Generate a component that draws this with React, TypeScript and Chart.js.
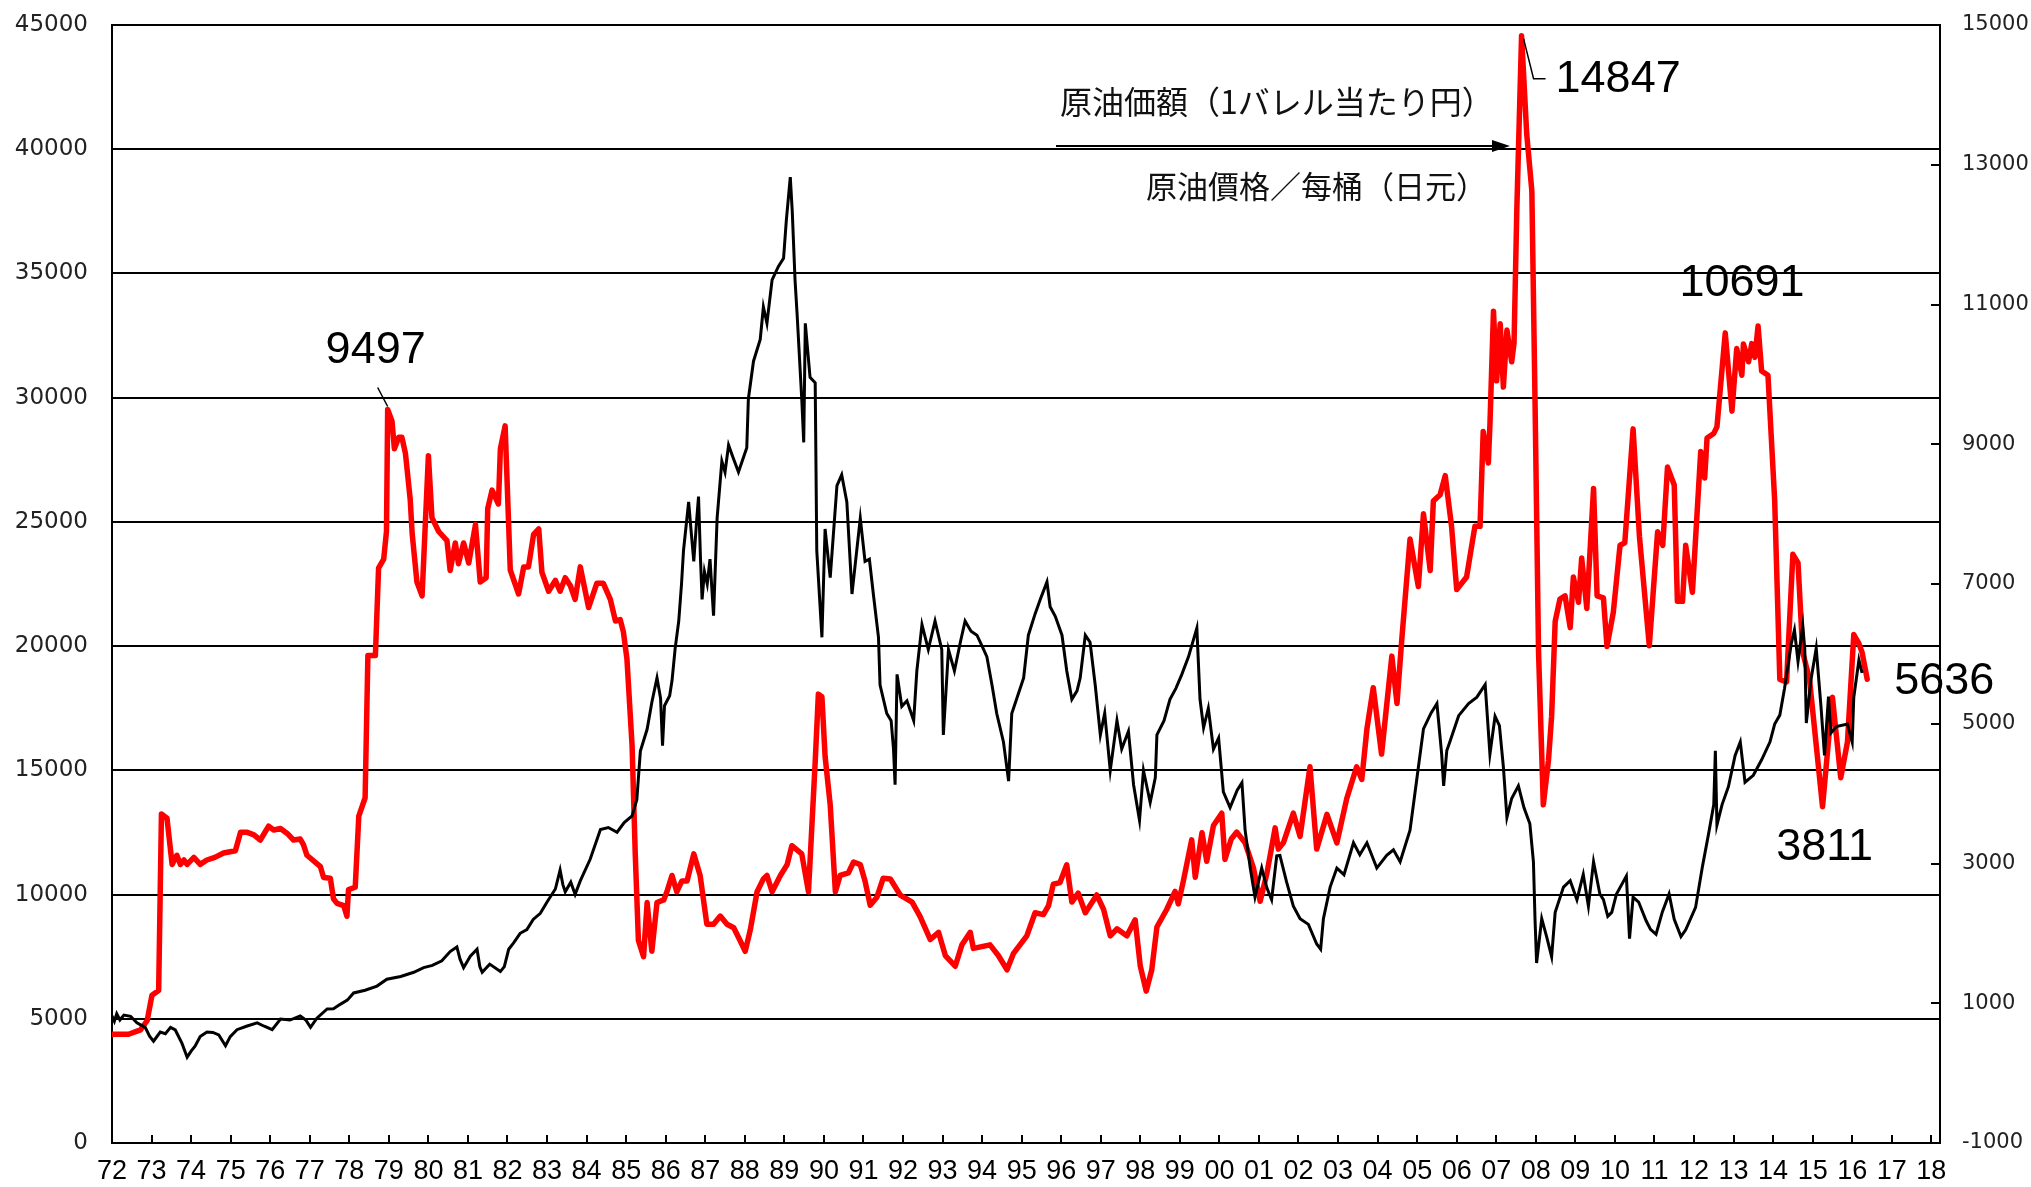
import React, { useEffect, useRef } from 'react';
import { Chart, registerables } from 'chart.js';

Chart.register(...registerables);

// Tick labels of the time axis; the first label sits at the first tick (1973.0)
const YEAR_LABELS = [
  '72', '73', '74', '75', '76', '77', '78', '79', '80', '81', '82', '83', '84', '85', '86', '87',
  '88', '89', '90', '91', '92', '93', '94', '95', '96', '97', '98', '99', '00', '01', '02', '03',
  '04', '05', '06', '07', '08', '09', '10', '11', '12', '13', '14', '15', '16', '17', '18',
];
const FIRST_TICK = 1973;
const X_MAX = 2019.22;

// Nikkei average (left axis) [time, value]
const NIKKEI = [
  [1973.0, 5116], [1973.06, 4900], [1973.12, 5200], [1973.2, 4950], [1973.3, 5150], [1973.47, 5100],
  [1973.63, 4838], [1973.84, 4653], [1973.95, 4300], [1974.05, 4097], [1974.22, 4468], [1974.35, 4400],
  [1974.48, 4653], [1974.6, 4550], [1974.77, 4010], [1974.9, 3454], [1975.0, 3700], [1975.1, 3900],
  [1975.23, 4283], [1975.4, 4468], [1975.55, 4450], [1975.7, 4350], [1975.87, 3917], [1975.99, 4283],
  [1976.16, 4561], [1976.4, 4700], [1976.67, 4838], [1976.85, 4700], [1977.05, 4561], [1977.26, 4988],
  [1977.5, 4950], [1977.76, 5116], [1977.9, 4950], [1978.02, 4653], [1978.18, 5023], [1978.44, 5395],
  [1978.6, 5400], [1978.77, 5580], [1978.95, 5750], [1979.11, 6039], [1979.4, 6150], [1979.7, 6316],
  [1979.95, 6594], [1980.3, 6700], [1980.63, 6872], [1980.88, 7057], [1981.1, 7150], [1981.34, 7334],
  [1981.55, 7705], [1981.72, 7890], [1981.8, 7400], [1981.89, 7057], [1982.06, 7520], [1982.23, 7797],
  [1982.3, 7100], [1982.36, 6872], [1982.55, 7200], [1982.82, 6900], [1982.92, 7100], [1983.03, 7797],
  [1983.15, 8043], [1983.32, 8441], [1983.49, 8590], [1983.65, 9000], [1983.83, 9242], [1984.0, 9700],
  [1984.21, 10224], [1984.33, 10985], [1984.4, 10400], [1984.46, 10111], [1984.6, 10500], [1984.71, 10006],
  [1984.84, 10550], [1985.09, 11419], [1985.35, 12619], [1985.55, 12700], [1985.77, 12510], [1985.95, 12900],
  [1986.15, 13162], [1986.27, 13818], [1986.36, 15778], [1986.53, 16651], [1986.65, 17742], [1986.78, 18721],
  [1986.87, 17900], [1986.92, 15996], [1986.97, 17600], [1987.1, 18000], [1987.16, 18612], [1987.24, 19920],
  [1987.33, 21011], [1987.4, 22500], [1987.45, 23844], [1987.58, 25804], [1987.65, 24500], [1987.71, 23406],
  [1987.78, 25000], [1987.83, 26022], [1987.88, 23500], [1987.92, 21880], [1987.98, 23000], [1988.05, 22500],
  [1988.12, 23500], [1988.21, 21228], [1988.3, 25150], [1988.42, 27440], [1988.5, 27000], [1988.59, 28092],
  [1988.7, 27600], [1988.84, 27005], [1989.05, 27983], [1989.09, 29947], [1989.22, 31468], [1989.39, 32342],
  [1989.47, 33650], [1989.56, 32994], [1989.69, 34741], [1989.85, 35284], [1989.98, 35610], [1990.05, 37136],
  [1990.15, 38879], [1990.2, 37500], [1990.27, 34741], [1990.32, 33433], [1990.44, 29947], [1990.49, 28200],
  [1990.53, 32994], [1990.65, 30816], [1990.78, 30598], [1990.82, 23844], [1990.95, 20355], [1991.03, 24714],
  [1991.16, 22754], [1991.33, 26457], [1991.45, 26896], [1991.58, 25804], [1991.71, 22098], [1991.92, 25150],
  [1992.04, 23406], [1992.15, 23500], [1992.25, 22098], [1992.38, 20355], [1992.42, 18435], [1992.59, 17288],
  [1992.7, 17000], [1992.76, 15855], [1992.8, 14422], [1992.85, 18862], [1992.97, 17574], [1993.1, 17800],
  [1993.27, 17003], [1993.35, 19006], [1993.48, 20865], [1993.64, 19863], [1993.81, 21011], [1993.98, 19863],
  [1994.02, 16427], [1994.15, 19863], [1994.3, 19000], [1994.45, 20154], [1994.57, 21011], [1994.72, 20600],
  [1994.87, 20440], [1995.0, 20000], [1995.12, 19578], [1995.25, 18435], [1995.37, 17288], [1995.54, 16141],
  [1995.67, 14567], [1995.75, 17288], [1995.9, 18000], [1996.05, 18721], [1996.17, 20440], [1996.34, 21297],
  [1996.47, 21872], [1996.64, 22585], [1996.72, 21583], [1996.85, 21200], [1997.02, 20440], [1997.14, 19006],
  [1997.27, 17860], [1997.4, 18200], [1997.48, 18721], [1997.61, 20440], [1997.73, 20154], [1997.86, 18435],
  [1997.99, 16427], [1998.1, 17300], [1998.24, 14994], [1998.41, 17003], [1998.53, 15855], [1998.7, 16571],
  [1998.83, 14422], [1998.98, 12989], [1999.08, 14994], [1999.25, 13706], [1999.38, 14708], [1999.42, 16427],
  [1999.6, 17000], [1999.75, 17860], [1999.9, 18300], [2000.05, 18862], [2000.22, 19578], [2000.43, 20725],
  [2000.51, 17860], [2000.6, 16712], [2000.72, 17500], [2000.85, 15855], [2000.98, 16300], [2001.1, 14136],
  [2001.27, 13500], [2001.45, 14200], [2001.57, 14500], [2001.65, 12594], [2001.78, 11065], [2001.9, 9900],
  [2002.07, 11065], [2002.2, 10268], [2002.32, 9793], [2002.45, 11556], [2002.53, 11576], [2002.7, 10500],
  [2002.87, 9535], [2003.04, 9028], [2003.25, 8800], [2003.46, 8010], [2003.56, 7800], [2003.63, 9028],
  [2003.8, 10300], [2003.97, 11065], [2004.15, 10800], [2004.39, 12083], [2004.55, 11600], [2004.73, 12083],
  [2004.98, 11065], [2005.23, 11576], [2005.4, 11800], [2005.57, 11318], [2005.82, 12594], [2005.99, 14631],
  [2006.16, 16668], [2006.35, 17300], [2006.5, 17690], [2006.62, 15650], [2006.67, 14377], [2006.75, 15800],
  [2006.83, 16161], [2007.05, 17200], [2007.3, 17690], [2007.51, 17944], [2007.72, 18451], [2007.84, 15650],
  [2007.97, 17178], [2008.08, 16800], [2008.18, 15142], [2008.27, 13103], [2008.39, 13866], [2008.56, 14377],
  [2008.7, 13500], [2008.85, 12848], [2008.94, 11318], [2008.98, 9028], [2009.02, 7245], [2009.15, 9028],
  [2009.28, 8264], [2009.4, 7500], [2009.49, 9283], [2009.7, 10302], [2009.87, 10556], [2010.04, 9793],
  [2010.2, 10812], [2010.33, 9535], [2010.46, 11318], [2010.62, 10023], [2010.71, 9793], [2010.82, 9122],
  [2010.92, 9283], [2011.04, 10023], [2011.29, 10744], [2011.37, 8224], [2011.46, 9900], [2011.6, 9700],
  [2011.79, 8944], [2011.9, 8600], [2012.04, 8402], [2012.2, 9300], [2012.37, 10023], [2012.5, 9000],
  [2012.67, 8306], [2012.79, 8583], [2013.04, 9484], [2013.21, 11102], [2013.38, 12543], [2013.5, 13621],
  [2013.54, 15783], [2013.58, 12800], [2013.71, 13621], [2013.87, 14341], [2014.04, 15601], [2014.17, 16144],
  [2014.29, 14522], [2014.5, 14800], [2014.71, 15424], [2014.92, 16140], [2015.04, 16865], [2015.17, 17223],
  [2015.29, 18302], [2015.46, 20101], [2015.54, 20645], [2015.63, 19385], [2015.75, 20822], [2015.8, 19900],
  [2015.84, 16906], [2015.96, 18665], [2016.09, 19912], [2016.21, 17582], [2016.3, 15601], [2016.4, 17966],
  [2016.46, 16503], [2016.6, 16758], [2016.88, 16865], [2017.0, 16140], [2017.04, 17944], [2017.17, 19441],
  [2017.25, 18917],
];

// Crude oil price, yen per barrel (right axis) [time, value]
const OIL = [
  [1973.0, 556], [1973.42, 556], [1973.72, 620], [1973.89, 753], [1974.01, 1116], [1974.18, 1182],
  [1974.25, 3710], [1974.39, 3650], [1974.52, 2987], [1974.64, 3118], [1974.73, 2987], [1974.82, 3050],
  [1974.9, 2987], [1975.07, 3087], [1975.23, 2987], [1975.4, 3050], [1975.6, 3087], [1975.82, 3150],
  [1976.12, 3183], [1976.25, 3446], [1976.42, 3446], [1976.59, 3410], [1976.75, 3336], [1976.96, 3534],
  [1977.09, 3480], [1977.26, 3500], [1977.43, 3430], [1977.59, 3336], [1977.76, 3350], [1977.84, 3270],
  [1977.93, 3118], [1978.27, 2954], [1978.35, 2800], [1978.52, 2790], [1978.6, 2495], [1978.69, 2429],
  [1978.86, 2396], [1978.94, 2245], [1978.98, 2627], [1979.15, 2660], [1979.24, 3677], [1979.4, 3941],
  [1979.47, 5977], [1979.66, 5977], [1979.74, 7226], [1979.87, 7357], [1979.94, 7751], [1979.97, 9497],
  [1980.08, 9329], [1980.14, 8934], [1980.25, 9099], [1980.33, 9099], [1980.42, 8868], [1980.54, 8211],
  [1980.59, 7718], [1980.71, 7029], [1980.84, 6831], [1981.0, 8836], [1981.09, 7949], [1981.26, 7751],
  [1981.47, 7620], [1981.55, 7193], [1981.68, 7587], [1981.76, 7291], [1981.89, 7587], [1982.02, 7300],
  [1982.19, 7850], [1982.31, 7029], [1982.46, 7090], [1982.5, 8080], [1982.61, 8343], [1982.77, 8145],
  [1982.82, 8934], [1982.94, 9263], [1983.07, 7200], [1983.28, 6857], [1983.41, 7245], [1983.53, 7245],
  [1983.66, 7710], [1983.79, 7787], [1983.87, 7168], [1984.04, 6896], [1984.21, 7051], [1984.33, 6896],
  [1984.46, 7090], [1984.59, 6975], [1984.71, 6780], [1984.84, 7245], [1985.05, 6663], [1985.26, 7012],
  [1985.42, 7012], [1985.6, 6780], [1985.73, 6470], [1985.85, 6490], [1985.93, 6315], [1986.02, 5927],
  [1986.15, 4688], [1986.23, 3138], [1986.31, 1898], [1986.44, 1666], [1986.53, 2441], [1986.65, 1744],
  [1986.78, 2441], [1986.95, 2479], [1987.03, 2595], [1987.16, 2829], [1987.28, 2595], [1987.41, 2751],
  [1987.54, 2750], [1987.71, 3138], [1987.87, 2829], [1988.04, 2131], [1988.21, 2131], [1988.38, 2248],
  [1988.55, 2131], [1988.72, 2080], [1988.88, 1898], [1989.01, 1744], [1989.14, 2053], [1989.31, 2595],
  [1989.47, 2780], [1989.56, 2829], [1989.69, 2595], [1989.9, 2829], [1990.07, 2984], [1990.19, 3255],
  [1990.44, 3138], [1990.61, 2595], [1990.78, 4456], [1990.86, 5424], [1990.95, 5386], [1991.03, 4533],
  [1991.16, 3836], [1991.29, 2595], [1991.41, 2829], [1991.62, 2867], [1991.75, 3022], [1991.92, 2984],
  [1992.04, 2750], [1992.17, 2402], [1992.34, 2518], [1992.5, 2790], [1992.68, 2778], [1992.93, 2549],
  [1993.23, 2448], [1993.43, 2243], [1993.69, 1912], [1993.9, 2014], [1994.07, 1683], [1994.32, 1530],
  [1994.49, 1836], [1994.7, 2014], [1994.78, 1785], [1995.2, 1836], [1995.41, 1683], [1995.63, 1479],
  [1995.79, 1709], [1996.13, 1964], [1996.34, 2295], [1996.55, 2269], [1996.68, 2397], [1996.8, 2703],
  [1996.97, 2727], [1997.14, 2982], [1997.27, 2448], [1997.43, 2575], [1997.61, 2295], [1997.9, 2549],
  [1998.07, 2346], [1998.24, 1964], [1998.41, 2066], [1998.66, 1964], [1998.87, 2193], [1999.0, 1530],
  [1999.15, 1174], [1999.29, 1479], [1999.42, 2091], [1999.67, 2345], [1999.88, 2600], [1999.96, 2422],
  [2000.09, 2753], [2000.3, 3338], [2000.39, 2804], [2000.56, 3441], [2000.68, 3033], [2000.85, 3543],
  [2001.06, 3720], [2001.14, 3059], [2001.3, 3350], [2001.44, 3450], [2001.65, 3296], [2001.86, 2939],
  [2002.03, 2460], [2002.2, 2855], [2002.41, 3510], [2002.49, 3206], [2002.62, 3300], [2002.87, 3720],
  [2003.04, 3387], [2003.29, 4384], [2003.46, 3206], [2003.72, 3704], [2003.97, 3296], [2004.22, 3930],
  [2004.47, 4384], [2004.6, 4203], [2004.73, 4927], [2004.89, 5516], [2005.1, 4565], [2005.36, 5968],
  [2005.49, 5290], [2005.61, 6195], [2005.82, 7644], [2006.03, 6964], [2006.16, 8006], [2006.33, 7192],
  [2006.41, 8188], [2006.58, 8278], [2006.71, 8551], [2006.87, 7825], [2007.0, 6920], [2007.25, 7100],
  [2007.46, 7825], [2007.59, 7825], [2007.67, 9183], [2007.8, 8732], [2007.84, 9274], [2007.93, 10905],
  [2008.01, 9908], [2008.1, 10724], [2008.18, 9818], [2008.27, 10634], [2008.39, 10180], [2008.45, 10452],
  [2008.52, 12354], [2008.64, 14847], [2008.77, 13442], [2008.9, 12626], [2008.98, 9638], [2009.07, 6014],
  [2009.19, 3840], [2009.32, 4474], [2009.4, 5108], [2009.49, 6466], [2009.61, 6784], [2009.74, 6829],
  [2009.87, 6376], [2009.95, 7100], [2010.08, 6738], [2010.16, 7372], [2010.29, 6648], [2010.46, 8368],
  [2010.55, 6829], [2010.71, 6800], [2010.8, 6104], [2010.96, 6596], [2011.13, 7554], [2011.25, 7588],
  [2011.46, 9220], [2011.62, 7684], [2011.87, 6116], [2012.08, 7748], [2012.21, 7553], [2012.33, 8673],
  [2012.5, 8417], [2012.58, 6753], [2012.71, 6753], [2012.79, 7553], [2012.96, 6882], [2013.17, 8896],
  [2013.27, 8516], [2013.33, 9090], [2013.5, 9155], [2013.58, 9248], [2013.79, 10594], [2013.96, 9474],
  [2014.08, 10369], [2014.21, 9988], [2014.25, 10436], [2014.38, 10180], [2014.46, 10440], [2014.54, 10244],
  [2014.62, 10691], [2014.71, 10049], [2014.87, 9988], [2015.04, 8195], [2015.17, 5636], [2015.34, 5600],
  [2015.5, 7425], [2015.63, 7301], [2015.75, 6021], [2015.92, 5636], [2016.25, 3811], [2016.5, 5380],
  [2016.71, 4228], [2016.88, 4739], [2017.04, 6276], [2017.17, 6147], [2017.25, 6021], [2017.38, 5636],
];

// Values called out on the oil line: [label, time, value]
const OIL_CALLOUTS = [
  ['9497', 1979.97, 9497],
  ['14847', 2008.64, 14847],
  ['10691', 2014.62, 10691],
  ['3811', 2016.25, 3811],
  ['5636', 2017.38, 5636],
];

const LABEL_JP = '原油価額（1バレル当たり円）';
const LABEL_ZH = '原油價格／每桶（日元）';

// pixel offsets / styling for the callouts (by label)
const CALLOUT_STYLE: Record<string, any> = {
  '9497': { dx: -12, dy: -59, align: 'center', leader: [[-10, -22], [0, -3]] },
  '14847': { dx: 34, dy: 44, align: 'left', leader: [[2, 3], [12, 43], [24, 43]] },
  '10691': { dx: -16, dy: -42, align: 'center' },
  '3811': { dx: 2, dy: 41, align: 'center' },
  '5636': { dx: 27, dy: 2, align: 'left' },
};

const innerTicks = {
  id: 'innerTicks',
  afterDraw(chart: any) {
    const { ctx, chartArea } = chart;
    const xs = chart.scales.x;
    const y2 = chart.scales.y2;
    ctx.save();
    ctx.strokeStyle = '#000';
    ctx.lineWidth = 2;
    ctx.beginPath();
    xs.ticks.forEach((t: any) => {
      const px = Math.round(xs.getPixelForValue(t.value));
      ctx.moveTo(px, chartArea.bottom);
      ctx.lineTo(px, chartArea.bottom - 8);
    });
    y2.ticks.forEach((t: any) => {
      const py = Math.round(y2.getPixelForValue(t.value));
      ctx.moveTo(chartArea.right - 9, py);
      ctx.lineTo(chartArea.right, py);
    });
    ctx.stroke();
    ctx.restore();
  },
};

const callouts = {
  id: 'callouts',
  afterDraw(chart: any) {
    const { ctx } = chart;
    const xs = chart.scales.x;
    const ys = chart.scales.y2;
    ctx.save();
    ctx.fillStyle = '#000';
    ctx.strokeStyle = '#000';
    ctx.textBaseline = 'middle';
    ctx.font = "45px 'Liberation Sans', Arial, sans-serif";
    OIL_CALLOUTS.forEach(([label, t, v]) => {
      const st = CALLOUT_STYLE[label as string];
      const px = xs.getPixelForValue(t);
      const py = ys.getPixelForValue(v);
      ctx.textAlign = st.align;
      ctx.fillText(label, px + st.dx, py + st.dy);
      if (st.leader) {
        ctx.lineWidth = 1.5;
        ctx.beginPath();
        st.leader.forEach(([lx, ly]: number[], i: number) => {
          if (i === 0) ctx.moveTo(px + lx, py + ly);
          else ctx.lineTo(px + lx, py + ly);
        });
        ctx.stroke();
      }
    });

    // descriptive labels with arrow
    ctx.fillStyle = '#111';
    ctx.textAlign = 'left';
    ctx.font = "32px 'Noto Sans CJK JP', sans-serif";
    ctx.fillText(LABEL_JP, 1060, 102);
    ctx.textAlign = 'right';
    ctx.font = "31px 'Noto Sans CJK JP', sans-serif";
    ctx.fillText(LABEL_ZH, 1487, 186);

    ctx.lineWidth = 2;
    ctx.beginPath();
    ctx.moveTo(1056, 146);
    ctx.lineTo(1495, 146);
    ctx.stroke();
    ctx.beginPath();
    ctx.moveTo(1510, 146);
    ctx.lineTo(1492, 140);
    ctx.lineTo(1492, 152);
    ctx.closePath();
    ctx.fillStyle = '#000';
    ctx.fill();
    ctx.restore();
  },
};

const zeroPad = (s: any) => { s.paddingTop = 0; s.paddingBottom = 0; };

export default function App() {
  const canvasRef = useRef<HTMLCanvasElement | null>(null);

  useEffect(() => {
    document.body.style.margin = '0';
    document.body.style.overflow = 'hidden';
    const canvas = canvasRef.current;
    if (!canvas) return;
    const chart = new Chart(canvas, {
      type: 'line',
      data: {
        datasets: [
          {
            label: 'Nikkei',
            data: NIKKEI.map(([x, y]) => ({ x, y })),
            yAxisID: 'y',
            borderColor: '#000000',
            borderWidth: 3,
            pointRadius: 0,
            tension: 0,
            fill: false,
          },
          {
            label: 'Oil',
            data: OIL.map(([x, y]) => ({ x, y })),
            yAxisID: 'y2',
            borderColor: '#ff0000',
            borderWidth: 5.5,
            pointRadius: 0,
            tension: 0,
            fill: false,
            borderJoinStyle: 'round',
            borderCapStyle: 'round',
          },
        ],
      },
      options: {
        responsive: false,
        animation: false,
        events: [],
        layout: { padding: { top: 25, left: 0, right: 0, bottom: 0 } },
        plugins: {
          legend: { display: false },
          tooltip: { enabled: false },
          title: { display: false },
        },
        scales: {
          x: {
            type: 'linear',
            position: 'bottom',
            min: FIRST_TICK,
            max: X_MAX,
            grid: { display: true, drawOnChartArea: false, drawTicks: false },
            border: { display: true, color: '#000', width: 2 },
            ticks: {
              stepSize: 1,
              includeBounds: false,
              autoSkip: false,
              maxRotation: 0,
              minRotation: 0,
              maxTicksLimit: 200,
              padding: 12,
              color: '#000',
              font: { family: "'Liberation Sans', Arial, sans-serif", size: 27 },
              callback: (v: any) => YEAR_LABELS[Math.round(Number(v) - FIRST_TICK)] ?? '',
            },
            afterFit: (s: any) => { s.height = 44; },
          },
          y: {
            type: 'linear',
            position: 'left',
            min: 0,
            max: 45000,
            grid: { color: '#000', lineWidth: 2, drawTicks: false },
            border: { display: true, color: '#000', width: 2 },
            ticks: {
              stepSize: 5000,
              padding: 24,
              color: '#222',
              font: { family: "'DejaVu Sans', sans-serif", size: 23 },
              callback: (v: any) => String(v),
            },
            afterFit: (s: any) => { s.width = 112; zeroPad(s); },
          },
          y2: {
            type: 'linear',
            position: 'right',
            min: -1000,
            max: 15000,
            grid: { drawOnChartArea: false, drawTicks: false },
            border: { display: true, color: '#000', width: 2 },
            ticks: {
              stepSize: 2000,
              padding: 22,
              color: '#222',
              font: { family: "'DejaVu Sans', sans-serif", size: 21 },
              callback: (v: any) => String(v),
            },
            afterFit: (s: any) => { s.width = 91; zeroPad(s); },
          },
        },
      },
      plugins: [innerTicks, callouts],
    } as any);
    return () => chart.destroy();
  }, []);

  return (
    <div style={{ position: 'absolute', left: 0, top: 0, width: 2031, height: 1187, background: '#fff' }}>
      <canvas ref={canvasRef} width={2031} height={1187} style={{ display: 'block' }} />
    </div>
  );
}
